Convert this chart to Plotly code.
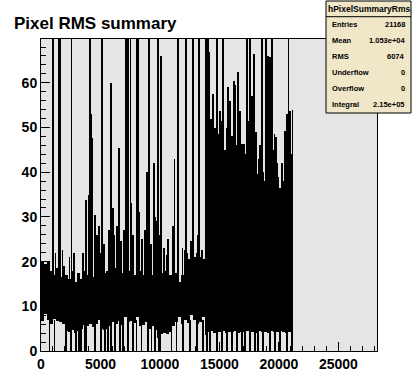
import numpy as np
import plotly.graph_objects as go

# ---------------- data ----------------
title_text = "Pixel RMS summary"
hist_name = "hPixelSummaryRms"
stat_labels = ["Entries", "Mean", "RMS", "Underflow", "Overflow", "Integral"]
stat_values = ["21168", "1.053e+04", "6074", "0", "0", "2.15e+05"]

n_filled = 21168          # last filled bin
col_width = 250           # bins summarised per envelope column

# upper / lower envelope of the dense band, one value per 250-bin column
band_hi = [20, 19.5, 20,
           18, 17, 18.5, 16.5, 19,
           17, 16, 18, 15.5, 17.5, 16,
           18, 17, 19, 16.5, 18, 17, 19, 17.5,
           18, 20, 17, 18.5, 16, 17.5, 19, 18, 16.5, 17, 19, 18,
           17, 18.5, 16, 17, 18, 16.5, 17.5, 18, 16,
           17, 16, 17.5, 15.5, 17,
           19, 20.5, 19, 21, 20, 21, 20.5,
           47, 46,
           42, 40, 41.5, 39, 38, 36,
           26, 23, 24, 22, 23.5, 22, 21, 23, 22, 21.5, 24,
           26, 25, 30, 31, 28, 27, 27.5, 26, 27, 26.5, 26]
band_lo = [6.8, 8.2, 7, 6, 7.2, 6.8, 6.5, 6,
           4.5, 4.2, 4.6, 4, 4.5, 5,
           5.8, 5.5, 6, 5.4, 6, 7, 5, 4.8,
           5, 5.5, 6.5, 6, 6.8, 5.8, 7.5, 6.5, 6.8, 6.2, 7.5, 5.5,
           5.8, 6.5, 5, 5.5, 4.8, 3, 3.8, 4, 3.8,
           4.2, 5.5, 6.5, 7.5, 6,
           7, 6.2, 8, 7, 6, 6.5, 7.5,
           3.5, 4.2, 4.4, 4.1, 4.3, 4.2, 4.4, 4.1,
           4.3, 4.2, 4.4, 4.1, 4.3, 4.2, 4.5, 4.2, 4.3, 4.1, 4.4,
           4.2, 4.3, 4.1, 4.4, 4.2, 4.3, 4.5, 4.2, 4.1, 4.3, 4.2]

# single noisy bins standing out above the band
spike_bins = [1222, 1812, 2403, 2740, 3498, 3751, 4030, 4240, 4282, 4510,
              4704, 4847, 5075, 5269, 5716, 5918, 6027, 6137, 6365, 6533,
              6702, 6955, 7604, 7739, 8219, 8472, 8725, 8936, 9273, 9509,
              9627, 9737, 9990, 10074, 10327, 10580, 10689, 11111, 11229, 11903,
              12097, 12291, 12578, 13083, 13193, 13505,
              14146, 14289, 14483, 14626, 14904, 15048, 15191, 15469, 15597, 15747,
              15891, 16034, 16144, 16228, 16337, 16455, 16523, 16592, 16650, 16734,
              16818, 16927, 17012, 17096, 17198, 17366, 17433, 17492, 17661, 17770,
              17855, 17939, 18057, 18167, 18276, 18377, 18504, 18588, 18698, 18799,
              18968, 19035, 19119, 19263, 19347, 19541, 19625, 19743, 19827, 19912,
              20021, 20106, 20190, 20299, 20417, 20468, 20527, 20670, 20754, 20864,
              20949, 21033, 21142]
spike_vals = [22, 22.7, 21, 22, 22, 33.7, 35, 53, 47.6, 30.5,
              26, 28, 22, 24, 27, 60, 32, 26, 28, 45.5,
              24.5, 27, 33, 26, 31, 25, 27, 40, 24, 42,
              30, 29, 26, 66, 23, 21.5, 25, 28, 43, 23,
              22.5, 22, 24.5, 22, 26, 22.5,
              66.9, 52, 57.5, 50, 48.5, 53.8, 51.5, 45, 50, 59,
              56, 48, 40, 60.5, 59.5, 46, 35, 62.4, 42, 53.8,
              38, 46.3, 33, 46.3, 44, 36, 51.5, 40, 55, 57,
              45, 66.5, 49, 39.5, 32, 36, 44.4, 41, 38, 35,
              42, 38, 66, 65.8, 63.5, 40, 48.5, 47.8, 42, 35.8,
              33, 36.5, 30, 41.8, 38, 33, 49.3, 53, 44, 35,
              53.8, 30, 54]

# medium-height bins filling the striped region after bin 15800
stripe_bins = [15823, 16127, 16396, 16700, 16885, 17054, 17239, 17324, 17619, 17829,
               18116, 18335, 18445, 18639, 18757, 18925, 19195, 19515, 19971, 20249,
               20713, 20915, 21092]
stripe_vals = [38, 44, 40, 45, 36, 42, 39, 47, 43, 41,
               37, 43, 46, 40, 38, 44, 48, 45, 39, 42,
               46, 40, 44]

# bins running off the top of the frame
off_scale_bins = [1012, 1517, 1644, 2571, 4131, 5142, 7123, 7317, 7520, 8051,
                  8135, 9104, 9846, 11549, 12181, 12797, 13277, 13867, 14061, 14769,
                  15326, 17298, 17577, 18563, 18900, 19456, 20805]
off_scale_value = 75

# dead bins dropping down to zero
drop_bins = [717, 1138, 2124, 2546, 2967, 3187, 3389, 3667, 3810, 4510,
             5075, 5353, 5631, 5918, 6196, 6618, 6896, 7317, 7739, 8025,
             8447, 9003, 9290, 9568, 9931, 10049, 10976, 11397, 11954, 12519,
             13083, 13640, 13926, 14205, 14769, 15191, 15612, 16034, 16455, 16877,
             17155, 17577, 17998, 18277, 18698, 19263, 19684, 20106, 20670, 21100]

x_ticks = [0, 5000, 10000, 15000, 20000, 25000]
y_ticks = [0, 10, 20, 30, 40, 50, 60]
x_max = 28250
y_max = 69.8

# ---------------- geometry (screen pixels) ----------------
W, H = 418, 390
L, R, T, B = 41, 377, 39, 351
PW, PH = R - L, B - T


def fx(px):
    return (px - L) / PW


def fy(py):
    return (B - py) / PH


ncol = len(band_hi)
starts = np.arange(ncol) * col_width
ends = np.minimum(starts + col_width, n_filled)
centers = (starts + ends) / 2
widths = ends - starts
hi = np.array(band_hi, dtype=float)
lo = np.array(band_lo, dtype=float)
thin = 70
blk = dict(color="black", line=dict(width=0))

fig = go.Figure()
fig.add_trace(go.Bar(x=centers, base=lo, y=hi - lo, width=widths, marker=blk,
                     hoverinfo="skip", showlegend=False))
fig.add_trace(go.Bar(x=spike_bins, base=10, y=np.array(spike_vals, float) - 10,
                     width=thin, marker=blk, hoverinfo="skip", showlegend=False))
fig.add_trace(go.Bar(x=stripe_bins, base=10, y=np.array(stripe_vals, float) - 10,
                     width=thin, marker=blk, hoverinfo="skip", showlegend=False))
fig.add_trace(go.Bar(x=off_scale_bins, base=10,
                     y=[off_scale_value - 10] * len(off_scale_bins), width=thin,
                     marker=blk, hoverinfo="skip", showlegend=False))
fig.add_trace(go.Bar(x=drop_bins, base=0, y=[7] * len(drop_bins), width=thin,
                     marker=blk, hoverinfo="skip", showlegend=False))

tickfont = dict(family="Liberation Sans, Arial, sans-serif", size=14,
                color="black", weight="bold")

fig.update_layout(
    width=W, height=H, autosize=False,
    margin=dict(l=L, r=W - R, t=T, b=H - B, pad=0),
    paper_bgcolor="white", plot_bgcolor="#e5e5e5",
    barmode="overlay", bargap=0,
    showlegend=False,
    xaxis=dict(range=[0, x_max], tickvals=x_ticks, ticktext=[str(v) for v in x_ticks],
               ticks="inside", ticklen=9, tickwidth=1, tickcolor="black",
               minor=dict(dtick=1000, tick0=0, ticks="inside", ticklen=5,
                          tickwidth=1, tickcolor="black", showgrid=False),
               showline=True, linecolor="black", linewidth=1, mirror=True,
               showgrid=False, zeroline=False, tickfont=tickfont),
    yaxis=dict(range=[0, y_max], tickvals=y_ticks, ticktext=[str(v) for v in y_ticks],
               ticks="inside", ticklen=9, tickwidth=1, tickcolor="black",
               minor=dict(dtick=2, tick0=0, ticks="inside", ticklen=5,
                          tickwidth=1, tickcolor="black", showgrid=False),
               showline=True, linecolor="black", linewidth=1, mirror=True,
               showgrid=False, zeroline=False, tickfont=tickfont),
)

# title
fig.add_annotation(text="<b>%s</b>" % title_text, xref="paper", yref="paper",
                   x=fx(12), y=fy(24), xanchor="left", yanchor="middle",
                   showarrow=False,
                   font=dict(family="Liberation Sans, Arial, sans-serif", size=17,
                             color="black"))

# statistics box
bx0, bx1, by0, by1 = 326, 411, 1, 113
fig.add_shape(type="rect", xref="paper", yref="paper",
              x0=fx(bx0), x1=fx(bx1), y0=fy(by1), y1=fy(by0),
              fillcolor="#efe7c7", line=dict(color="black", width=1), layer="above")
fig.add_shape(type="line", xref="paper", yref="paper",
              x0=fx(bx0), x1=fx(bx1), y0=fy(16.7), y1=fy(16.7),
              line=dict(color="black", width=1), layer="above")
statfont = dict(family="Liberation Sans, Arial, sans-serif", size=7.5, color="black")
fig.add_annotation(text="<b>%s</b>" % hist_name, xref="paper", yref="paper",
                   x=fx((bx0 + bx1) / 2), y=fy(9), xanchor="center", yanchor="middle",
                   showarrow=False, font=dict(statfont, size=8.5))
row_y = [25, 41, 56.7, 72.7, 88.3, 104.3]
for lab, val, ry in zip(stat_labels, stat_values, row_y):
    fig.add_annotation(text="<b>%s</b>" % lab, xref="paper", yref="paper",
                       x=fx(330), y=fy(ry), xanchor="left", yanchor="middle",
                       showarrow=False, font=statfont)
    fig.add_annotation(text="<b>%s</b>" % val, xref="paper", yref="paper",
                       x=fx(407), y=fy(ry), xanchor="right", yanchor="middle",
                       showarrow=False, font=statfont)

# remove the browser's default page margin so the figure sits at the window corner
fig.write_html("out.html", config={"displayModeBar": False},
               post_script="document.body.style.margin='0px';")
